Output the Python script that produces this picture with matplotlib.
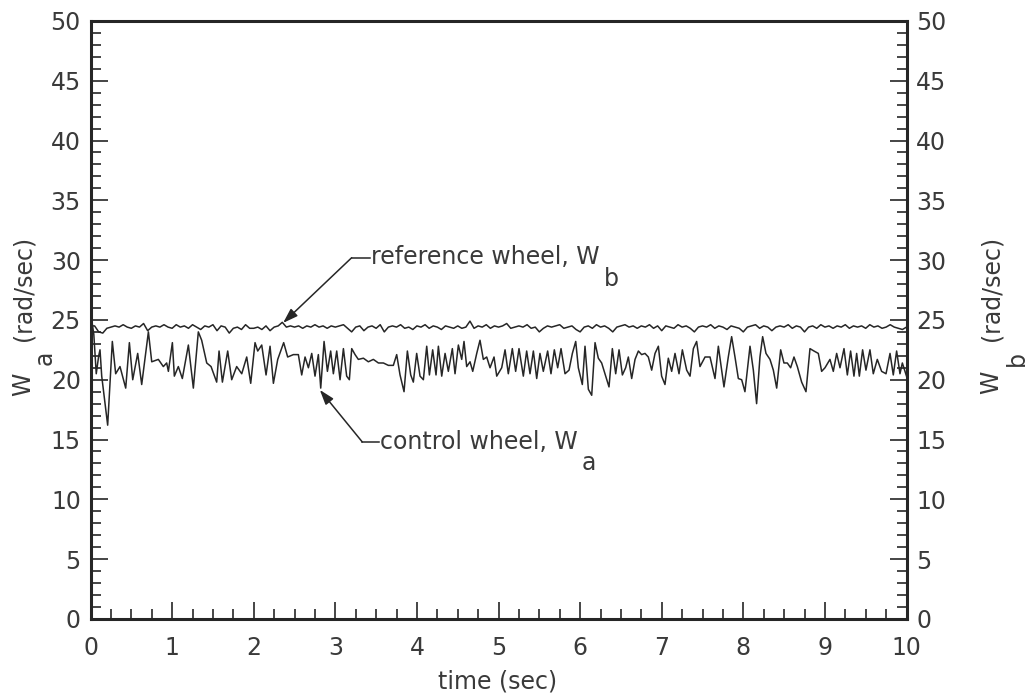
import numpy as np
import matplotlib
matplotlib.use('Agg')
import matplotlib.pyplot as plt
from matplotlib.ticker import MultipleLocator

# %% data
# control wheel speed W_a (rad/sec), vertices of the trace
T_A = [0.000, 0.010, 0.040, 0.070, 0.100, 0.116, 0.137, 0.210, 0.267, 0.308,
       0.361, 0.431, 0.476, 0.517, 0.578, 0.627, 0.709, 0.750, 0.831, 0.892,
       0.933, 0.954, 1.003, 1.027, 1.076, 1.125, 1.199, 1.260, 1.321, 1.362,
       1.424, 1.477, 1.546, 1.575, 1.616, 1.681, 1.730, 1.791, 1.853, 1.914,
       1.963, 2.016, 2.049, 2.098, 2.151, 2.200, 2.241, 2.294, 2.367, 2.416,
       2.486, 2.547, 2.588, 2.629, 2.670, 2.711, 2.751, 2.792, 2.821, 2.862,
       2.903, 2.943, 2.976, 3.017, 3.058, 3.099, 3.139, 3.172, 3.201, 3.242,
       3.282, 3.344, 3.405, 3.466, 3.528, 3.589, 3.650, 3.711, 3.752, 3.793,
       3.842, 3.883, 3.924, 3.956, 3.997, 4.038, 4.079, 4.120, 4.153, 4.193,
       4.234, 4.263, 4.304, 4.345, 4.385, 4.434, 4.467, 4.508, 4.549, 4.577,
       4.610, 4.651, 4.684, 4.733, 4.773, 4.814, 4.855, 4.896, 4.945, 4.978,
       5.039, 5.080, 5.120, 5.169, 5.210, 5.251, 5.304, 5.345, 5.386, 5.427,
       5.468, 5.508, 5.549, 5.602, 5.643, 5.684, 5.725, 5.766, 5.815, 5.864,
       5.905, 5.946, 5.978, 6.027, 6.060, 6.101, 6.142, 6.183, 6.223, 6.264,
       6.305, 6.354, 6.395, 6.436, 6.477, 6.518, 6.558, 6.591, 6.632, 6.673,
       6.714, 6.754, 6.795, 6.836, 6.877, 6.918, 6.959, 6.999, 7.040, 7.081,
       7.122, 7.163, 7.212, 7.253, 7.306, 7.347, 7.388, 7.428, 7.469, 7.531,
       7.592, 7.653, 7.694, 7.735, 7.763, 7.816, 7.857, 7.898, 7.939, 7.980,
       8.020, 8.082, 8.123, 8.163, 8.204, 8.237, 8.278, 8.327, 8.368, 8.409,
       8.458, 8.498, 8.539, 8.580, 8.621, 8.662, 8.715, 8.768, 8.817, 8.866,
       8.919, 8.960, 9.001, 9.062, 9.103, 9.144, 9.185, 9.234, 9.275, 9.315,
       9.356, 9.389, 9.422, 9.462, 9.503, 9.552, 9.593, 9.642, 9.695, 9.749,
       9.798, 9.838, 9.879, 9.920, 9.949, 10.000]
W_A = [0.0, 25.2, 23.8, 20.5, 22.0, 22.5, 20.3, 16.2, 23.2, 20.5,
       21.1, 19.3, 23.1, 20.0, 22.2, 19.6, 24.0, 21.5, 21.7, 21.1,
       21.4, 20.7, 23.1, 20.3, 21.1, 20.1, 22.9, 19.3, 24.0, 23.3,
       21.4, 21.1, 19.8, 22.4, 19.8, 22.4, 20.0, 21.1, 20.5, 21.9,
       19.7, 23.1, 22.4, 22.9, 20.4, 22.8, 19.7, 21.7, 23.1, 21.9,
       22.1, 22.1, 20.4, 21.9, 21.0, 22.2, 20.3, 22.1, 19.3, 23.2,
       20.7, 22.4, 20.5, 22.4, 20.0, 22.6, 20.3, 20.0, 22.6, 22.1,
       21.7, 21.8, 21.5, 21.7, 21.4, 21.4, 21.2, 21.2, 22.1, 20.4,
       19.0, 22.4, 20.4, 19.8, 22.2, 20.3, 20.0, 22.8, 20.4, 22.5,
       20.4, 22.8, 20.3, 22.2, 20.7, 22.6, 20.5, 22.9, 21.7, 23.2,
       21.1, 21.5, 20.7, 22.2, 23.3, 21.7, 21.9, 21.0, 21.9, 20.3,
       21.0, 22.5, 20.5, 22.6, 20.7, 22.6, 20.3, 22.4, 20.5, 22.4,
       20.1, 22.2, 20.7, 22.4, 20.5, 22.5, 21.0, 22.6, 20.5, 20.8,
       22.2, 23.2, 21.0, 19.6, 22.8, 19.2, 18.7, 23.1, 21.8, 21.4,
       20.5, 19.4, 22.6, 20.5, 22.5, 20.4, 21.0, 21.9, 20.1, 21.7,
       22.4, 22.1, 22.2, 21.9, 20.8, 22.2, 22.8, 20.3, 19.6, 21.8,
       20.7, 22.2, 20.5, 22.5, 20.8, 20.3, 22.6, 23.2, 21.1, 21.9,
       21.9, 20.1, 22.8, 20.8, 19.4, 21.9, 23.6, 21.9, 20.1, 20.0,
       19.0, 22.8, 20.8, 18.0, 21.9, 23.6, 22.2, 21.7, 20.8, 19.3,
       22.5, 21.4, 21.4, 21.0, 21.9, 21.1, 19.8, 19.0, 22.6, 22.4,
       22.2, 20.7, 21.0, 21.7, 20.7, 22.2, 21.0, 22.6, 20.4, 22.4,
       20.3, 22.2, 20.3, 22.5, 20.8, 22.5, 20.5, 21.7, 20.7, 20.5,
       22.2, 20.4, 22.4, 20.5, 21.4, 20.3]

# reference wheel speed W_b (rad/sec), every 0.05 s
T_B = np.arange(201) * 0.05
W_B = [24.5, 24.5, 24.0, 23.9, 24.3, 24.4, 24.5, 24.4, 24.6, 24.4,
       24.3, 24.5, 24.4, 24.7, 24.1, 24.4, 24.5, 24.4, 24.6, 24.4,
       24.3, 24.6, 24.4, 24.5, 24.3, 24.6, 24.4, 24.2, 24.5, 24.4,
       24.6, 24.1, 24.5, 24.4, 23.9, 24.3, 24.4, 24.2, 24.6, 24.3,
       24.3, 24.4, 24.2, 24.5, 24.1, 24.4, 24.5, 24.8, 24.4, 24.5,
       24.4, 24.5, 24.3, 24.5, 24.4, 24.6, 24.4, 24.5, 24.3, 24.5,
       24.4, 24.5, 24.6, 24.3, 24.0, 24.4, 24.5, 24.1, 24.4, 24.5,
       24.3, 24.6, 24.0, 24.4, 24.5, 24.4, 24.6, 24.3, 24.4, 24.2,
       24.5, 24.4, 24.6, 24.3, 24.5, 24.4, 24.2, 24.5, 24.4, 24.3,
       24.5, 24.3, 24.4, 24.9, 24.3, 24.5, 24.4, 24.6, 24.3, 24.5,
       24.4, 24.5, 24.7, 24.3, 24.4, 24.5, 24.4, 24.6, 24.3, 24.4,
       24.0, 24.3, 24.5, 24.4, 24.5, 24.6, 24.3, 24.4, 24.5, 24.2,
       24.0, 24.4, 24.5, 24.3, 24.6, 24.4, 24.5, 24.3, 24.0, 24.4,
       24.5, 24.6, 24.4, 24.5, 24.3, 24.5, 24.4, 24.6, 24.3, 24.5,
       24.1, 24.5, 24.4, 24.3, 24.6, 24.4, 24.5, 24.3, 24.0, 24.4,
       24.5, 24.4, 24.6, 24.3, 24.5, 24.4, 24.2, 24.5, 24.4, 24.3,
       24.0, 24.4, 24.5, 24.6, 24.3, 24.5, 24.4, 24.1, 24.4, 24.5,
       24.4, 24.6, 24.3, 24.5, 24.4, 24.0, 24.4, 24.5, 24.3, 24.6,
       24.4, 24.5, 24.3, 24.5, 24.4, 24.6, 24.3, 24.5, 24.4, 24.5,
       24.3, 24.6, 24.4, 24.5, 24.3, 24.4, 24.6, 24.4, 24.3, 24.2,
       24.4]

X_TICKS = list(range(0, 11))
Y_TICKS = list(range(0, 51, 5))

INK = '#262626'
TXT = '#3a3a3a'
FS = 17

# %% plot
plt.rcParams['font.family'] = ['DejaVu Sans']

fig = plt.figure(figsize=(10.30, 6.97), dpi=100)
ax = fig.add_axes([0.0879, 0.112, 0.7922, 0.858])

ax.plot(T_B, W_B, color=INK, lw=1.1)
ax.plot(T_A, W_A, color=INK, lw=1.1)

ax.set_xlim(0, 10)
ax.set_ylim(0, 50)
ax.set_xticks(X_TICKS)
ax.set_yticks(Y_TICKS)
ax.xaxis.set_minor_locator(MultipleLocator(0.25))
ax.yaxis.set_minor_locator(MultipleLocator(1))
ax.tick_params(which='both', direction='in', color=INK, labelcolor=TXT,
               labelsize=FS, top=False, right=True,
               labelright=True, labelleft=True)
ax.tick_params(which='major', length=12, width=1.2)
ax.tick_params(which='minor', length=7, width=1.2)
ax.tick_params(axis='y', pad=7)
ax.tick_params(axis='x', pad=12)
for sp in ax.spines.values():
    sp.set_linewidth(2.2)
    sp.set_color(INK)

# annotations
arrow = dict(arrowstyle='-|>,head_length=0.9,head_width=0.3',
             color=INK, lw=1.1, shrinkA=0, shrinkB=0)

ax.plot([3.20, 3.42], [30.2, 30.2], color=INK, lw=1.1)
ax.annotate('', xy=(2.36, 24.75), xytext=(3.20, 30.2), arrowprops=arrow)
t_b = ax.text(3.44, 30.3, 'reference wheel, W', fontsize=FS, color=TXT,
              va='center', ha='left')
ax.annotate('b', xy=(1, 0.5), xycoords=t_b, xytext=(3, -16),
            textcoords='offset points', fontsize=FS, color=TXT,
            va='center', ha='left')

ax.plot([3.33, 3.53], [14.8, 14.8], color=INK, lw=1.1)
ax.annotate('', xy=(2.81, 19.15), xytext=(3.33, 14.8), arrowprops=arrow)
t_a = ax.text(3.55, 14.8, 'control wheel, W', fontsize=FS, color=TXT,
              va='center', ha='left')
ax.annotate('a', xy=(1, 0.5), xycoords=t_a, xytext=(3, -15),
            textcoords='offset points', fontsize=FS, color=TXT,
            va='center', ha='left')

# axis labels, placed in figure pixels
W, H = 1030, 697


def ftext(x, y, s, **kw):
    fig.text(x / W, 1 - y / H, s, fontsize=FS, color=TXT,
             ha='center', va='center', **kw)


ftext(498, 681, 'time (sec)')
ftext(23, 384, 'W', rotation=90)
ftext(45, 358, 'a', rotation=90)
ftext(23, 288, '(rad/sec)', rotation=90)
ftext(991, 382, 'W', rotation=90)
ftext(1017, 358, 'b', rotation=90)
ftext(991, 288, '(rad/sec)', rotation=90)

fig.savefig('out.png', dpi=100)
